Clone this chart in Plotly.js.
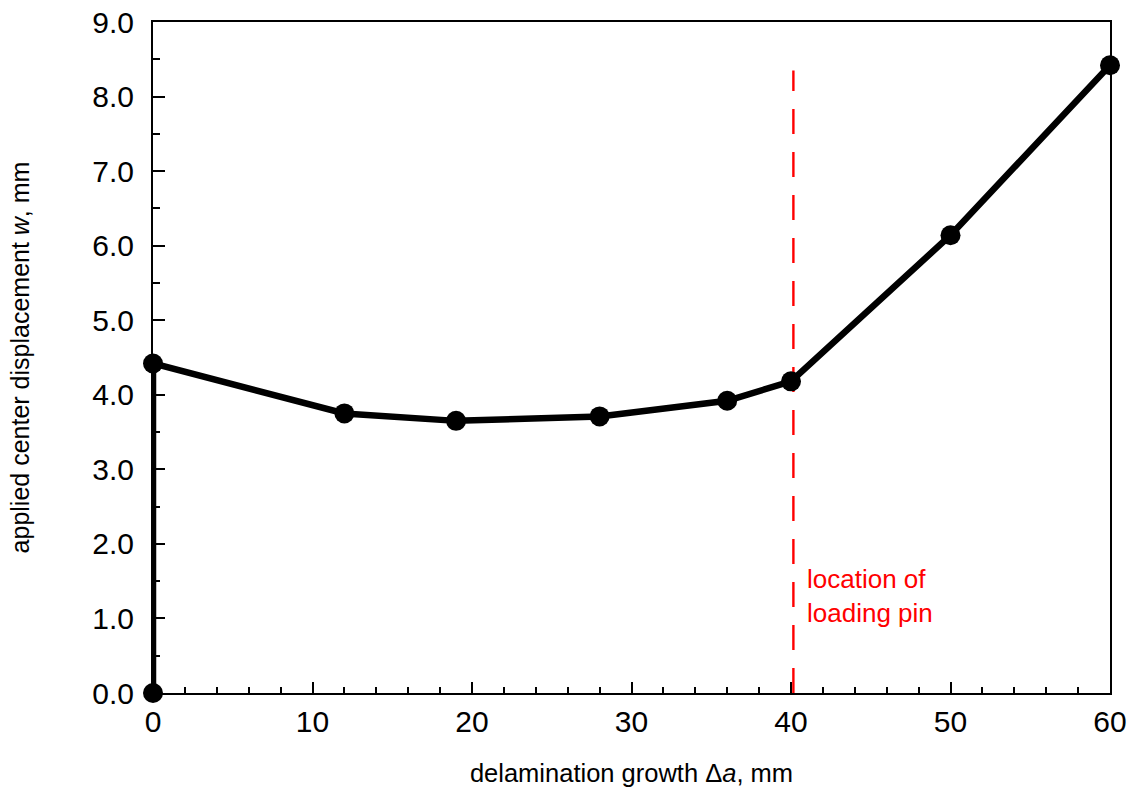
<!DOCTYPE html>
<html>
<head>
<meta charset="utf-8">
<script src="https://cdn.plot.ly/plotly-3.0.1.min.js"></script>
<style>
html,body{margin:0;padding:0;background:#fff;}
#chart{width:1135px;height:796px;}
</style>
</head>
<body>
<div id="chart"></div>
<script>
// delamination growth Δa (mm)
var growth = [0, 0, 12, 19, 28, 36, 40, 50, 60];
// applied center displacement w (mm)
var displacement = [0, 4.42, 3.75, 3.65, 3.71, 3.92, 4.18, 6.14, 8.42];
// loading pin location
var pinX = [40.15, 40.15];
var pinY = [0, 8.35];
var xTicks = [0, 10, 20, 30, 40, 50, 60];
var yTicks = [0, 1, 2, 3, 4, 5, 6, 7, 8, 9];
var pinLabel = 'location of<br>loading pin';

var FONT = '"Liberation Sans", Arial, Helvetica, sans-serif';

var traces = [
  {
    x: pinX, y: pinY, mode: 'lines', type: 'scatter',
    line: {color: '#ff0000', width: 2.4, dash: '25px,18px'},
    hoverinfo: 'skip', cliponaxis: false
  },
  {
    x: growth, y: displacement, mode: 'lines+markers', type: 'scatter',
    line: {color: '#000000', width: 6.5},
    marker: {color: '#000000', size: 20},
    cliponaxis: false
  }
];

var layout = {
  width: 1135, height: 796,
  margin: {l: 153, r: 25, t: 22, b: 103},
  paper_bgcolor: '#ffffff', plot_bgcolor: '#ffffff',
  showlegend: false,
  font: {family: FONT, color: '#000000'},
  xaxis: {
    range: [0, 60],
    tickvals: xTicks,
    ticktext: xTicks.map(String),
    ticks: 'inside', ticklen: 11, tickwidth: 2, tickcolor: '#000',
    minor: {dtick: 2, ticks: 'inside', ticklen: 6, tickwidth: 2, tickcolor: '#000'},
    showline: true, linecolor: '#000', linewidth: 2, mirror: true,
    showgrid: false, zeroline: false,
    tickfont: {family: FONT, size: 30, color: '#000'},
    ticklabelstandoff: 1,
    title: {text: 'delamination growth Δ<i>a</i>, mm', font: {family: FONT, size: 25.5, color: '#000'}, standoff: 27},
    automargin: false
  },
  yaxis: {
    range: [0, 9],
    tickvals: yTicks,
    ticktext: yTicks.map(function(v){return v.toFixed(1);}),
    ticks: 'inside', ticklen: 12, tickwidth: 2, tickcolor: '#000',
    minor: {dtick: 0.5, ticks: 'inside', ticklen: 7, tickwidth: 2, tickcolor: '#000'},
    showline: true, linecolor: '#000', linewidth: 2, mirror: true,
    showgrid: false, zeroline: false,
    tickfont: {family: FONT, size: 30, color: '#000'},
    ticklabelstandoff: 11,
    title: {text: 'applied center displacement <i>w</i>, mm', font: {family: FONT, size: 25, color: '#000'}, standoff: 56},
    automargin: false
  },
  annotations: [{
    x: 40.9, y: 1.3, xref: 'x', yref: 'y',
    text: pinLabel, showarrow: false,
    xanchor: 'left', yanchor: 'middle', align: 'left',
    font: {family: FONT, size: 26, color: '#ff0000'}
  }]
};

Plotly.newPlot('chart', traces, layout, {displayModeBar: false, staticPlot: true});
</script>
</body>
</html>
